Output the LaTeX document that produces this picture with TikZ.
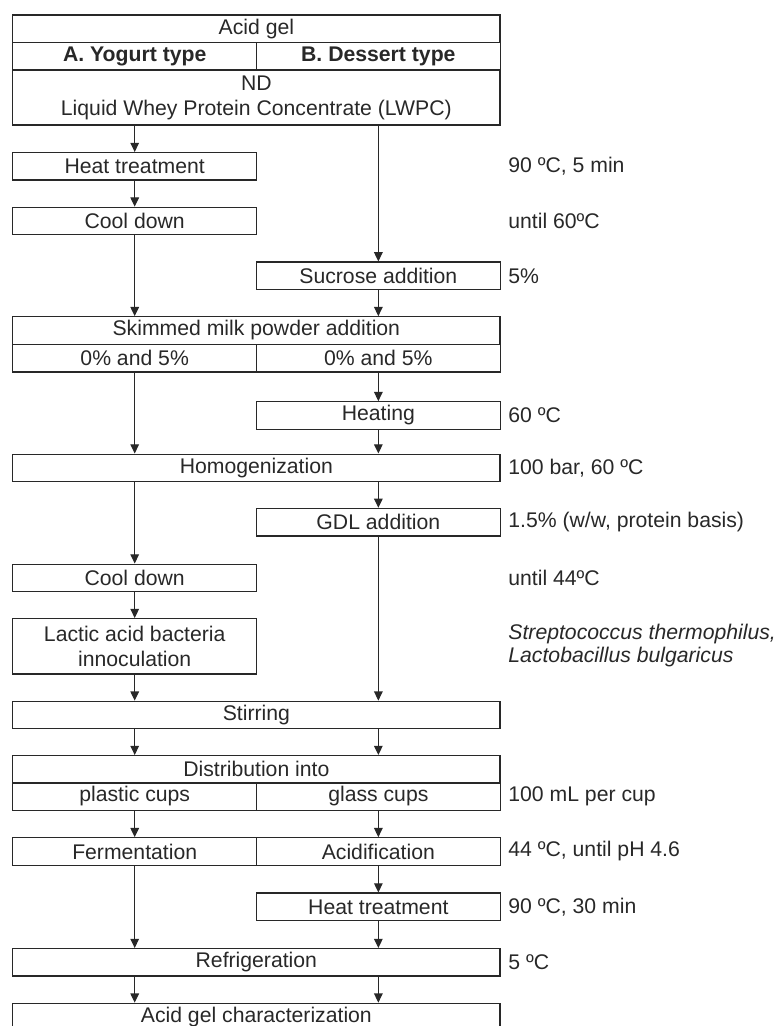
\documentclass[tikz,border=0pt]{standalone}
\usepackage{fontspec}
\setmainfont{Liberation Sans}
\usetikzlibrary{arrows.meta}
\definecolor{FlowGray}{RGB}{40,40,40}

\begin{document}
\begin{tikzpicture}[x=0.5pt,y=-0.5pt,
  full/.style={draw=FlowGray,line width=0.65pt,minimum width=243.65pt,minimum height=13.7pt,
               inner sep=0pt,font=\fontsize{10.6}{12.5}\selectfont,text=FlowGray},
  half/.style={full,minimum width=122pt},
  tall/.style={align=center,minimum height=27.6pt},
  note/.style={anchor=west,inner sep=0pt,font=\fontsize{10.6}{12.5}\selectfont,text=FlowGray},
  flow/.style={draw=FlowGray,line width=0.55pt,-{Triangle[length=4.6pt,width=4.3pt]}},
]
\path[use as bounding box,clip] (0,0) rectangle (779,1026);
\node[full] (acid) at (256.35,28.65) {Acid gel};
\node[half] (typeA) at (134.7,56.15) {\textbf{A. Yogurt type}};
\node[half] (typeB) at (378.35,56.15) {\textbf{B. Dessert type}};
\node[full,tall] (lwpc) at (256.35,97.5) {ND\\Liquid Whey Protein Concentrate (LWPC)};
\node[half] (heatA) at (134.7,166.35) {Heat treatment};
\node[half] (coolA) at (134.7,221) {Cool down};
\node[half] (sucB) at (378.35,275.8) {Sucrose addition};
\node[full] (skim) at (256.35,330.5) {Skimmed milk powder addition};
\node[half] (skimA) at (134.7,358.3) {0\% and 5\%};
\node[half] (skimB) at (378.35,358.3) {0\% and 5\%};
\node[half] (heatB) at (378.35,415.5) {Heating};
\node[full] (homog) at (256.35,467.85) {Homogenization};
\node[half] (gdlB) at (378.35,522.15) {GDL addition};
\node[half] (cool2A) at (134.7,577.85) {Cool down};
\node[half,tall] (labA) at (134.7,646.3) {Lactic acid bacteria\\innoculation};
\node[full] (stir) at (256.35,715) {Stirring};
\node[full] (distr) at (256.35,769.35) {Distribution into};
\node[half] (cupA) at (134.7,796.5) {plastic cups};
\node[half] (cupB) at (378.35,796.5) {glass cups};
\node[half] (fermA) at (134.7,851.5) {Fermentation};
\node[half] (acidB) at (378.35,851.5) {Acidification};
\node[half] (heat2B) at (378.35,906.8) {Heat treatment};
\node[full] (refr) at (256.35,962.35) {Refrigeration};
\node[full] (charact) at (256.35,1017) {Acid gel characterization};

\node[note] (heatAnote) at (508,166.35) {90 ºC, 5 min};
\node[note] (coolAnote) at (508,221) {until 60ºC};
\node[note] (sucBnote) at (508,275.8) {5\%};
\node[note] (heatBnote) at (508,415.5) {60 ºC};
\node[note] (homognote) at (508,467.85) {100 bar, 60 ºC};
\node[note] (gdlBnote) at (508,522.15) {1.5\% (w/w, protein basis)};
\node[note] (cool2Anote) at (508,577.85) {until 44ºC};
\node[note,align=left,font=\fontsize{10.6}{11.8}\selectfont\itshape] (labAnote) at (508,645.5)
  {Streptococcus thermophilus,\\Lactobacillus bulgaricus};
\node[note] (cupnote) at (508,796.5) {100 mL per cup};
\node[note] (acidBnote) at (508,851.5) {44 ºC, until pH 4.6};
\node[note] (heat2Bnote) at (508,906.8) {90 ºC, 30 min};
\node[note] (refrnote) at (508,962.35) {5 ºC};

\draw[flow] (lwpc.south -| heatA) -- (heatA);
\draw[flow] (lwpc.south -| sucB) -- (sucB);
\draw[flow] (heatA) -- (coolA);
\draw[flow] (coolA) -- (skim.north -| coolA);
\draw[flow] (sucB) -- (skim.north -| sucB);
\draw[flow] (skimA) -- (homog.north -| skimA);
\draw[flow] (skimB) -- (heatB);
\draw[flow] (heatB) -- (homog.north -| heatB);
\draw[flow] (homog.south -| cool2A) -- (cool2A);
\draw[flow] (homog.south -| gdlB) -- (gdlB);
\draw[flow] (cool2A) -- (labA);
\draw[flow] (labA) -- (stir.north -| labA);
\draw[flow] (gdlB) -- (stir.north -| gdlB);
\draw[flow] (stir.south -| cupA) -- (distr.north -| cupA);
\draw[flow] (stir.south -| cupB) -- (distr.north -| cupB);
\draw[flow] (cupA) -- (fermA);
\draw[flow] (cupB) -- (acidB);
\draw[flow] (fermA) -- (refr.north -| fermA);
\draw[flow] (acidB) -- (heat2B);
\draw[flow] (heat2B) -- (refr.north -| heat2B);
\draw[flow] (refr.south -| cupA) -- (charact.north -| cupA);
\draw[flow] (refr.south -| cupB) -- (charact.north -| cupB);
\end{tikzpicture}
\end{document}
